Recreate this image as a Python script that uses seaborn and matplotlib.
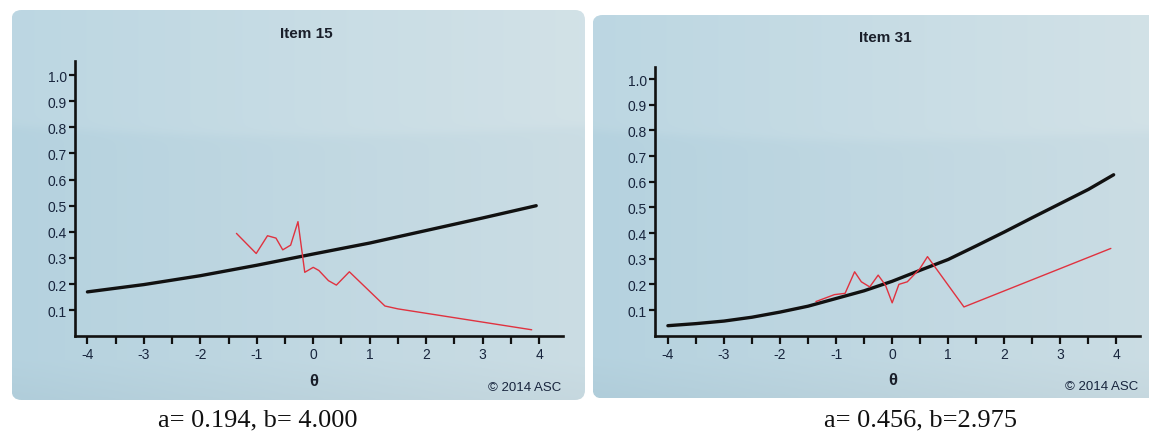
import numpy as np
import matplotlib
matplotlib.use("Agg")
import matplotlib.pyplot as plt
import seaborn as sns
from matplotlib.patches import FancyBboxPatch

# ---------------- data ----------------
titles = ["Item 15", "Item 31"]
captions = ["a= 0.194, b= 4.000", "a= 0.456, b=2.975"]

# Item 15: model curve (black) and observed (red)
theta_model_15 = [-4.0, -3.0, -2.0, -1.0, 0.0, 1.0, 2.0, 3.0, 3.95]
p_model_15 = [0.170, 0.198, 0.232, 0.272, 0.315, 0.357, 0.405, 0.453, 0.500]
theta_obs_15 = [-1.36, -1.01, -0.81, -0.66, -0.54, -0.40, -0.27, -0.15, 0.0,
                0.10, 0.27, 0.41, 0.64, 1.27, 1.50, 3.87]
p_obs_15 = [0.394, 0.317, 0.385, 0.376, 0.331, 0.349, 0.439, 0.245, 0.264,
            0.252, 0.213, 0.196, 0.247, 0.116, 0.105, 0.025]

# Item 31
theta_model_31 = [-4.0, -3.5, -3.0, -2.5, -2.0, -1.5, -1.0, -0.5, 0.0, 0.5,
                  1.0, 1.5, 2.0, 2.5, 3.0, 3.5, 3.95]
p_model_31 = [0.039, 0.047, 0.057, 0.072, 0.092, 0.115, 0.145, 0.175, 0.212,
              0.255, 0.297, 0.350, 0.404, 0.460, 0.515, 0.570, 0.627]
theta_obs_31 = [-1.36, -1.03, -0.84, -0.67, -0.55, -0.40, -0.25, -0.12, 0.0,
                0.12, 0.27, 0.49, 0.63, 1.28, 3.90]
p_obs_31 = [0.133, 0.160, 0.165, 0.249, 0.210, 0.190, 0.236, 0.197, 0.128,
            0.200, 0.210, 0.260, 0.308, 0.112, 0.340]

x_ticks = [-4, -3, -2, -1, 0, 1, 2, 3, 4]
y_ticks = [0.1, 0.2, 0.3, 0.4, 0.5, 0.6, 0.7, 0.8, 0.9, 1.0]

# ---------------- style ----------------
sns.set_style("ticks")
plt.rcParams["font.family"] = ["Liberation Sans", "DejaVu Sans"]
plt.rcParams["axes.unicode_minus"] = False

W, H = 1149, 439
fig = plt.figure(figsize=(W / 100, H / 100), dpi=100)

# background panels (pixel coordinates)
bg = fig.add_axes([0, 0, 1, 1], zorder=-5)
bg.set_xlim(0, W)
bg.set_ylim(H, 0)
bg.axis("off")

panels = [(11.5, 11, 585, 401), (592.5, 16, 1160, 399.5)]
for (x0, y0, x1, y1) in panels:
    nx, ny = 600, 400
    xs = np.linspace(0, 1, nx)
    ys = np.linspace(y0, y1, ny)
    c_left = np.array([181, 210, 223]) / 255.0
    c_right = np.array([203, 221, 228]) / 255.0
    img = c_left[None, None, :] * (1 - xs[None, :, None]) + c_right[None, None, :] * xs[None, :, None]
    img = np.repeat(img, ny, axis=0)
    # glossy top band with a soft edge
    boundary = y0 + 116 + 10 * np.sin(np.pi * xs)
    gloss = 1.0 / (1.0 + np.exp((ys[:, None] - boundary[None, :]) / 2.5))
    img = img + gloss[:, :, None] * np.array([0.028, 0.018, 0.012])
    # slightly darker towards the bottom
    shade = np.clip((ys - (y1 - 40)) / 40.0, 0, 1)
    img = img - shade[:, None, None] * 0.02
    img = np.clip(img, 0, 1)
    im = bg.imshow(img, extent=(x0, x1, y1, y0), aspect="auto", interpolation="bilinear")
    patch = FancyBboxPatch((x0 + 10, y0 + 10), (x1 - x0) - 20, (y1 - y0) - 20,
                           boxstyle="round,pad=10", transform=bg.transData,
                           facecolor="none", edgecolor="none")
    bg.add_patch(patch)
    im.set_clip_path(patch)

txt_col = "#18253d"

def px_rect(l, t, r, b):
    return [l / W, 1 - b / H, (r - l) / W, (b - t) / H]

axes_specs = [
    dict(rect=px_rect(75, 62, 563.3, 337.3), xlim=(-4.22, 4.43), ylim=(0, 1.054),
         title_xy=(306.7, 33.5), theta_xy=(313.5, 381.5), copy_xy=(561.5, 388.5),
         cap_xy=(258, 420),
         tm=theta_model_15, pm=p_model_15, to=theta_obs_15, po=p_obs_15),
    dict(rect=px_rect(655, 67.7, 1140, 336.7), xlim=(-4.23, 4.42), ylim=(0, 1.048),
         title_xy=(885, 38.5), theta_xy=(893, 380.5), copy_xy=(1138.5, 387.5),
         cap_xy=(920, 420),
         tm=theta_model_31, pm=p_model_31, to=theta_obs_31, po=p_obs_31),
]

for i, spec in enumerate(axes_specs):
    ax = fig.add_axes(spec["rect"])
    ax.set_facecolor("none")
    sns.lineplot(x=spec["tm"], y=spec["pm"], ax=ax, color="#111111", linewidth=2.4,
                 estimator=None, sort=False)
    sns.lineplot(x=spec["to"], y=spec["po"], ax=ax, color="#e0323f", linewidth=1.0,
                 estimator=None, sort=False)
    ax.set_xlim(*spec["xlim"])
    ax.set_ylim(*spec["ylim"])
    ax.set_xticks(x_ticks)
    ax.set_xticklabels([str(t) for t in x_ticks])
    ax.set_xticks(np.arange(-3.5, 4, 1.0), minor=True)
    ax.set_yticks(y_ticks)
    ax.set_yticklabels([f"{v:.1f}" for v in y_ticks])
    for side in ["top", "right"]:
        ax.spines[side].set_visible(False)
    for side in ["left", "bottom"]:
        ax.spines[side].set_linewidth(1.9)
        ax.spines[side].set_color("#111111")
    ax.tick_params(axis="x", which="both", direction="out", length=5.5, width=1.6,
                   color="#111111", labelsize=10, labelcolor=txt_col, pad=2.5)
    ax.tick_params(axis="y", which="major", direction="out", length=4.5, width=1.6,
                   color="#111111", labelsize=10, labelcolor=txt_col, pad=1.5)
    ax.set_xlabel("")
    ax.set_ylabel("")

    fig.text(spec["title_xy"][0] / W, 1 - spec["title_xy"][1] / H, titles[i],
             ha="center", va="center", fontsize=11, fontweight="bold", color="#1a1f2a")
    fig.text(spec["theta_xy"][0] / W, 1 - spec["theta_xy"][1] / H, "θ",
             ha="center", va="center", fontsize=12, fontweight="bold", color="#1a1f2a")
    fig.text(spec["copy_xy"][0] / W, 1 - spec["copy_xy"][1] / H, "© 2014 ASC",
             ha="right", va="center", fontsize=9.5, color=txt_col)
    fig.text(spec["cap_xy"][0] / W, 1 - spec["cap_xy"][1] / H, captions[i],
             ha="center", va="center", fontsize=19, color="#111111",
             family=["Liberation Serif", "DejaVu Serif"])

fig.savefig("out.png", dpi=100, facecolor="white")
